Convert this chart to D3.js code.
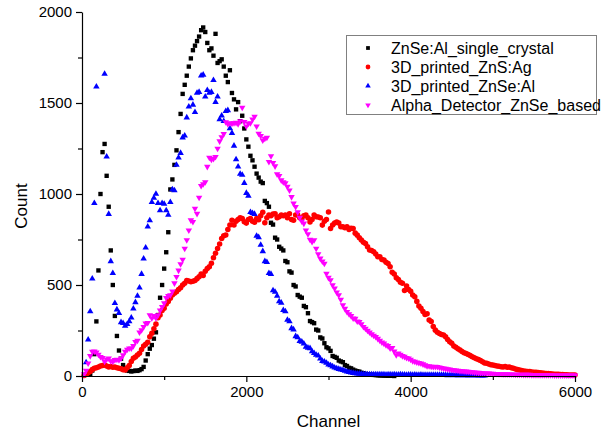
<!DOCTYPE html>
<html>
<head>
<meta charset="utf-8">
<script src="https://cdn.jsdelivr.net/npm/d3@7"></script>
<style>
  body { margin: 0; background: #fff; }
  svg { display: block; }
  text { font-family: "Liberation Sans", Arial, sans-serif; fill: #000; }
</style>
</head>
<body>
<svg id="chart" width="606" height="437"></svg>
<script>
// Spectra: counts per channel bin, bins are 25 channels wide.
const binWidth = 25;

const seriesNames = ["ZnSe:Al_single_crystal", "3D_printed_ZnS:Ag", "3D_printed_ZnSe:Al", "Alpha_Detector_ZnSe_based"];
const seriesColors = ["#000000", "#ff0000", "#0000ff", "#ff00ff"];

// ZnSe:Al single crystal, first bin at channel 100
const crystalStart = 100;
const crystalCounts = [
  10, 30, 120, 300, 580, 1000, 1230, 1275, 1100, 930,
  690, 500, 330, 220, 140, 95, 60, 40, 30, 28,
  25, 27, 30, 28, 32, 38, 50, 85, 120, 150,
  170, 205, 240, 335, 430, 500, 590, 680, 790, 1025,
  1080, 1160, 1240, 1340, 1440, 1550, 1600, 1650, 1700, 1745,
  1790, 1815, 1840, 1865, 1900, 1915, 1890, 1830, 1790, 1800,
  1760, 1880, 1720, 1730, 1740, 1700, 1650, 1615, 1680, 1555,
  1520, 1465, 1505, 1400, 1430, 1360, 1300, 1260, 1210, 1185,
  1150, 1112, 1090, 1068, 1060, 962, 950, 930, 842, 832,
  760, 750, 710, 700, 690, 632, 625, 575, 568, 500,
  492, 445, 436, 430, 385, 378, 345, 302, 296, 290,
  255, 250, 212, 206, 180, 158, 152, 138, 110, 105,
  100, 85, 80, 76, 60, 55, 45, 42, 35, 30,
  26, 24, 18, 15, 12, 10, 8, 7, 6, 5,
  4, 3, 3, 2, 2, 1, 1, 1, 0
];

// 3D printed ZnS:Ag, first bin at channel 25
const znsStart = 25;
const znsCounts = [
  3, 8, 18, 25, 35, 42, 45, 50, 55, 58,
  60, 55, 50, 52, 48, 50, 45, 42, 40, 35,
  33, 45, 58, 80, 97, 105, 115, 125, 145, 165,
  175, 185, 215, 235, 260, 285, 320, 335, 360, 372,
  395, 410, 427, 445, 455, 463, 475, 485, 500, 510,
  525, 522, 518, 520, 525, 535, 545, 560, 552, 575,
  590, 600, 620, 650, 675, 700, 725, 755, 770, 775,
  805, 830, 856, 830, 850, 860, 870, 865, 848, 840,
  860, 865, 850, 845, 865, 858, 880, 900, 842, 870,
  885, 880, 890, 892, 870, 875, 885, 880, 884, 870,
  892, 860, 856, 885, 884, 870, 865, 880, 884, 870,
  846, 860, 884, 875, 874, 870, 829, 850, 860, 901,
  811, 830, 840, 846, 840, 820, 820, 815, 820, 805,
  812, 811, 785, 774, 760, 747, 735, 728, 710, 692,
  690, 683, 670, 655, 655, 640, 637, 625, 618, 600,
  570, 560, 540, 530, 515, 510, 470, 495, 475, 465,
  445, 435, 410, 385, 372, 355, 338, 342, 308, 300,
  272, 252, 240, 234, 228, 225, 215, 200, 188, 180,
  165, 158, 150, 143, 135, 128, 124, 118, 112, 106,
  100, 95, 90, 85, 78, 72, 70, 66, 62, 60,
  58, 55, 53, 51, 50, 52, 48, 50, 45, 42,
  38, 35, 33, 30, 28, 26, 25, 24, 22, 21,
  20, 19, 18, 16, 15, 14, 13, 12, 11, 10,
  10, 9, 8, 8, 7, 7, 6, 6, 5, 5
];

// 3D printed ZnSe:Al, first bin at channel 50 (bins 200-250 run off the top of the axis)
const znseStart = 50;
const znseCounts = [
  75, 200, 355, 535, 950, 1590, 2250, 2450, 2150, 1660,
  1205, 890, 630, 565, 400, 365, 345, 295, 290, 275,
  285, 300, 320, 370, 405, 440, 485, 560, 645, 705,
  820, 855, 955, 978, 1000, 950, 910, 950, 945, 910,
  885, 955, 1025, 1020, 1160, 1200, 1225, 1310, 1320, 1420,
  1480, 1525, 1490, 1450, 1555, 1560, 1650, 1655, 1535, 1570,
  1555, 1560, 1625, 1505, 1535, 1410, 1430, 1400, 1455, 1460,
  1360, 1335, 1265, 1190, 1150, 1110, 1105, 1060, 1005, 990,
  900, 895, 890, 770, 762, 720, 685, 630, 625, 565,
  560, 470, 462, 440, 410, 402, 362, 355, 308, 300,
  262, 255, 218, 212, 192, 188, 178, 160, 155, 152,
  135, 125, 116, 112, 95, 82, 79, 72, 62, 58,
  52, 46, 42, 38, 35, 32, 28, 24, 21, 18,
  16, 14, 13, 12, 11, 10, 10, 9, 9, 9,
  8, 9, 8, 8, 9, 8, 7, 8, 8, 7,
  8, 7, 7, 8, 7, 7, 6, 7, 7, 6,
  7, 6, 6, 7, 6, 6, 5, 6, 6, 5,
  6, 5, 5, 6, 5, 5, 4, 5, 5, 4,
  5, 4, 4, 5, 4, 4, 3, 4, 3, 3,
  3, 2, 3, 2, 2
];

// Alpha detector (ZnSe based), first bin at channel 25
const alphaStart = 25;
const alphaCounts = [
  10, 30, 70, 110, 134, 135, 130, 118, 105, 100,
  80, 92, 97, 82, 80, 88, 90, 88, 97, 115,
  134, 145, 152, 152, 165, 188, 195, 240, 252, 270,
  289, 292, 335, 318, 330, 318, 335, 360, 380, 400,
  430, 440, 445, 465, 510, 545, 580, 615, 640, 700,
  747, 800, 856, 847, 920, 892, 980, 1045, 1055, 1066,
  1150, 1200, 1190, 1194, 1204, 1250, 1290, 1313, 1330, 1395,
  1385, 1390, 1387, 1390, 1392, 1385, 1400, 1475, 1396, 1372,
  1387, 1390, 1410, 1425, 1372, 1332, 1320, 1295, 1305, 1310,
  1177, 1208, 1171, 1153, 1109, 1100, 1076, 1066, 1060, 1040,
  1020, 984, 948, 930, 900, 870, 850, 838, 800, 780,
  750, 737, 747, 700, 670, 646, 630, 618, 563, 540,
  527, 500, 482, 460, 445, 420, 390, 370, 353, 340,
  330, 317, 315, 300, 298, 285, 270, 261, 250, 240,
  230, 222, 215, 205, 195, 185, 179, 170, 165, 152,
  155, 135, 115, 125, 118, 110, 106, 100, 97, 90,
  82, 79, 75, 72, 70, 65, 60, 55, 55, 52,
  50, 51, 50, 48, 45, 42, 40, 38, 36, 34,
  33, 31, 30, 28, 27, 26, 25, 24, 23, 22,
  20, 19, 18, 17, 16, 15, 15, 14, 13, 13,
  12, 12, 11, 11, 10, 10, 10, 9, 9, 9,
  8, 8, 8, 8, 7, 7, 7, 7, 6, 6,
  6, 6, 6, 5, 5, 5, 5, 5, 5, 4,
  4, 4, 4, 4, 4, 4, 4, 4, 4, 4
];

const xMajorTicks = [0, 2000, 4000, 6000];
const xMinorTicks = [1000, 3000, 5000];
const yMajorTicks = [0, 500, 1000, 1500, 2000];
const yMinorTicks = [250, 750, 1250, 1750];

const xTitle = "Channel";
const yTitle = "Count";

// ---- layout ----
const svg = d3.select("#chart");
const plot = { left: 82, right: 575, top: 12, bottom: 376 };

const x = d3.scaleLinear().domain([0, 6000]).range([plot.left, plot.right]);
const y = d3.scaleLinear().domain([0, 2000]).range([plot.bottom, plot.top]);

function toPoints(start, counts) {
  return counts.map((c, i) => ({ ch: start + i * binWidth, count: c }));
}

const series = [
  { points: toPoints(crystalStart, crystalCounts), shape: "square" },
  { points: toPoints(znsStart, znsCounts), shape: "circle" },
  { points: toPoints(znseStart, znseCounts), shape: "up" },
  { points: toPoints(alphaStart, alphaCounts), shape: "down" }
];

function symbolPath(shape, scale) {
  if (shape === "square") return d3.symbol(d3.symbolSquare, 19 * scale)();
  if (shape === "circle") return d3.symbol(d3.symbolCircle, 24 * scale)();
  return d3.symbol(d3.symbolTriangle, 18 * scale)();
}

// clip away counts above the axis range
svg.append("defs").append("clipPath").attr("id", "plotClip")
  .append("rect")
  .attr("x", 0).attr("y", plot.top - 1)
  .attr("width", 606).attr("height", 437 - plot.top + 1);

const dataLayer = svg.append("g").attr("clip-path", "url(#plotClip)");

series.forEach((s, k) => {
  const path = symbolPath(s.shape, 1);
  dataLayer.append("g")
    .selectAll("path")
    .data(s.points)
    .join("path")
    .attr("d", path)
    .attr("fill", seriesColors[k])
    .attr("transform", d => `translate(${x(d.ch)},${y(d.count)})${s.shape === "down" ? " rotate(180)" : ""}`);
});

// ---- axes ----
const axisFont = "15px";

svg.append("g").attr("transform", `translate(0,${plot.bottom})`)
  .call(d3.axisBottom(x).tickValues(xMajorTicks).tickSize(6).tickSizeOuter(0).tickPadding(4).tickFormat(d3.format("d")));
svg.append("g").attr("transform", `translate(0,${plot.bottom})`)
  .call(d3.axisBottom(x).tickValues(xMinorTicks).tickSize(4).tickSizeOuter(0).tickFormat(""))
  .select(".domain").remove();

svg.append("g").attr("transform", `translate(${plot.left},0)`)
  .call(d3.axisLeft(y).tickValues(yMajorTicks).tickSize(6).tickSizeOuter(0).tickPadding(4).tickFormat(d3.format("d")));
svg.append("g").attr("transform", `translate(${plot.left},0)`)
  .call(d3.axisLeft(y).tickValues(yMinorTicks).tickSize(4).tickSizeOuter(0).tickFormat(""))
  .select(".domain").remove();

svg.selectAll(".domain, .tick line").attr("stroke", "#000").attr("stroke-width", 1.2);
svg.selectAll(".tick text")
  .style("font-family", '"Liberation Sans", Arial, sans-serif')
  .style("font-size", axisFont)
  .attr("fill", "#000");

svg.append("text")
  .attr("x", (plot.left + plot.right) / 2)
  .attr("y", 427)
  .attr("text-anchor", "middle")
  .style("font-size", "17px")
  .text(xTitle);

svg.append("text")
  .attr("transform", `translate(27,${(plot.top + plot.bottom) / 2 + 12}) rotate(-90)`)
  .attr("text-anchor", "middle")
  .style("font-size", "17px")
  .text(yTitle);

// ---- legend ----
const legend = svg.append("g").attr("transform", "translate(346,35)");
legend.append("rect")
  .attr("x", 0.5).attr("y", 0.5)
  .attr("width", 250).attr("height", 79)
  .attr("fill", "#fff")
  .attr("stroke", "#808080")
  .attr("stroke-width", 1);

seriesNames.forEach((name, k) => {
  const row = legend.append("g").attr("transform", `translate(0,${13 + k * 19})`);
  row.append("path")
    .attr("d", symbolPath(series[k].shape, 0.75))
    .attr("fill", seriesColors[k])
    .attr("transform", `translate(22,0)${series[k].shape === "down" ? " rotate(180)" : ""}`);
  row.append("text")
    .attr("x", 45)
    .attr("y", 0)
    .attr("dy", "0.35em")
    .style("font-size", "16px")
    .text(name);
});
</script>
</body>
</html>
